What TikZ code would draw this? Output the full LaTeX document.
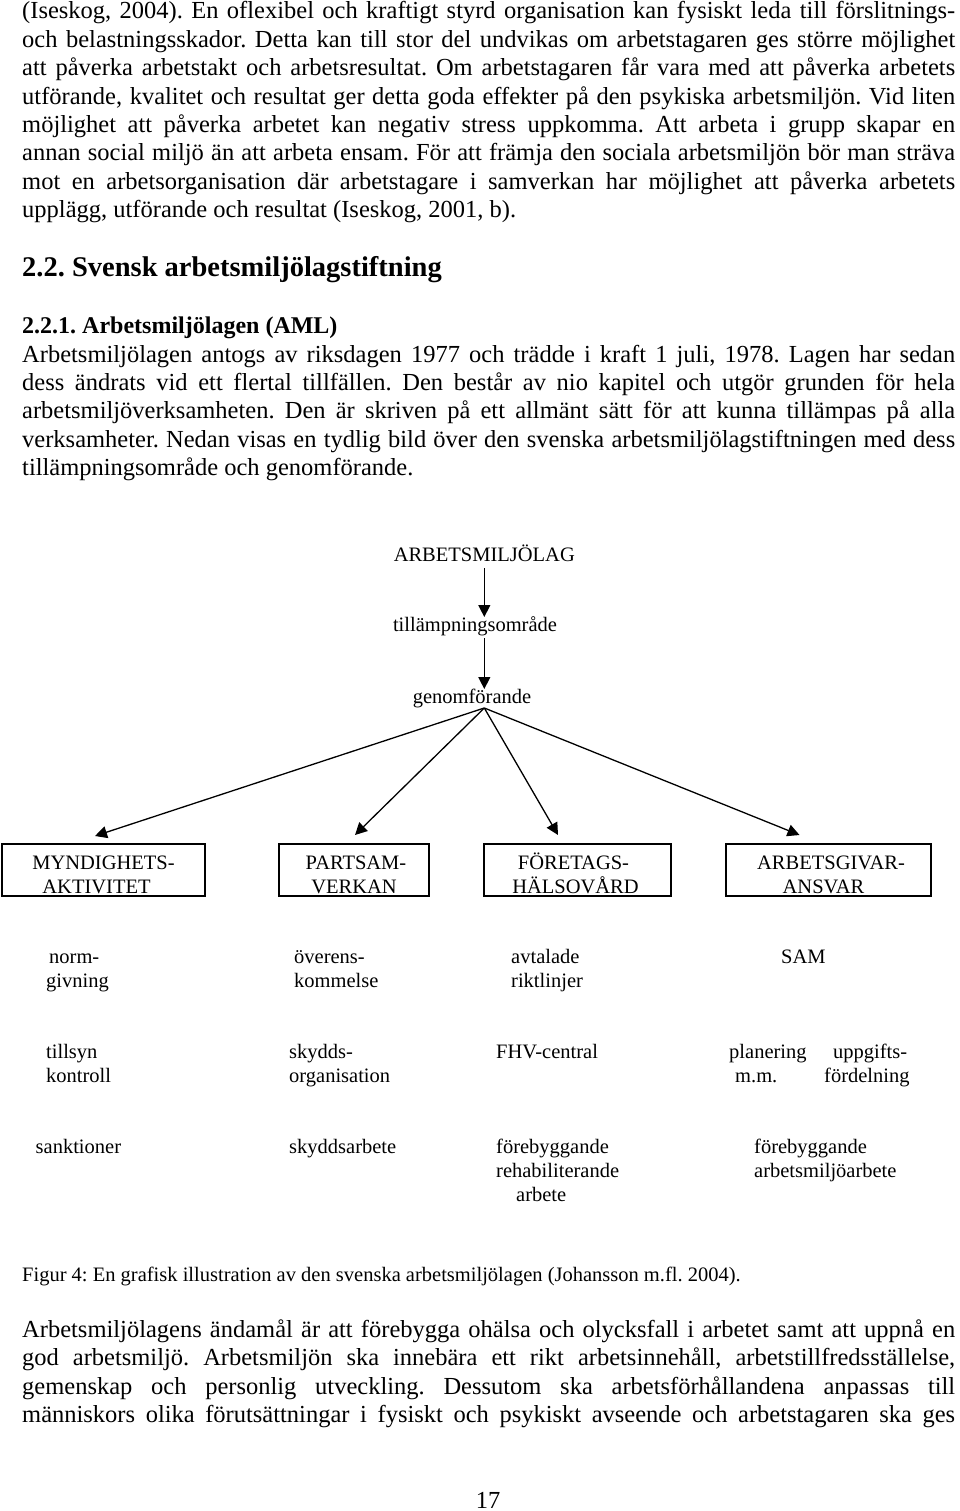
\documentclass[tikz,border=0pt]{standalone}
\usepackage{fontspec}
\setmainfont{Liberation Serif}
\usetikzlibrary{arrows.meta}
\frenchspacing
\tikzset{
  body/.style={anchor=base west, inner sep=0pt, font=\fontsize{24.5}{28.4}\selectfont\frenchspacing},
  bodyb/.style={body, font=\fontsize{24}{28.4}\selectfont\bfseries\frenchspacing},
  headb/.style={body, font=\fontsize{28.5}{33}\selectfont\bfseries\frenchspacing},
  capt/.style={anchor=base west, inner sep=0pt, font=\fontsize{20.5}{24}\selectfont\frenchspacing},
  dtext/.style={inner sep=0pt, outer sep=0pt, font=\fontsize{20.5}{24}\selectfont, text height=14pt, text depth=5pt},
  lbl/.style={anchor=base west, inner sep=0pt, font=\fontsize{20.5}{24}\selectfont},
  box/.style={draw, line width=1.4pt, inner sep=0pt, align=center, minimum height=52pt, font=\fontsize{20.5}{24}\selectfont},
  arr/.style={line width=1.3pt, -{Triangle[length=12pt,width=12pt]}},
}
\newcommand\jl[1]{\makebox[933pt][s]{#1}}
\newcommand\stk[1]{\begin{tabular}[t]{@{}l@{}}#1\end{tabular}}
\newcommand\tl{\rule{0pt}{24pt}}
\begin{document}
\begin{tikzpicture}[x=1pt,y=-1pt]
\fill[white] (0,0) rectangle (960,1511);
\useasboundingbox (0,0) rectangle (960,1511);

% paragraph 1
\node[body] (p1a) at (22,19) {\jl{(Iseskog, 2004). En oflexibel och kraftigt styrd organisation kan fysiskt leda till förslitnings-}};
\node[body] (p1b) at (22,47.4) {\jl{och belastningsskador. Detta kan till stor del undvikas om arbetstagaren ges större möjlighet}};
\node[body] (p1c) at (22,75.8) {\jl{att påverka arbetstakt och arbetsresultat. Om arbetstagaren får vara med att påverka arbetets}};
\node[body] (p1d) at (22,104.2) {\jl{utförande, kvalitet och resultat ger detta goda effekter på den psykiska arbetsmiljön. Vid liten}};
\node[body] (p1e) at (22,132.6) {\jl{möjlighet att påverka arbetet kan negativ stress uppkomma. Att arbeta i grupp skapar en}};
\node[body] (p1f) at (22,161) {\jl{annan social miljö än att arbeta ensam. För att främja den sociala arbetsmiljön bör man sträva}};
\node[body] (p1g) at (22,189.4) {\jl{mot en arbetsorganisation där arbetstagare i samverkan har möjlighet att påverka arbetets}};
\node[body] (p1h) at (22,217.8) {upplägg, utförande och resultat (Iseskog, 2001, b).};

% headings
\node[headb] (h22) at (22,277) {2.2. Svensk arbetsmiljölagstiftning};
\node[bodyb] (h221) at (22,333.5) {2.2.1. Arbetsmiljölagen (AML)};

% paragraph 2
\node[body] (p2a) at (22,362) {\jl{Arbetsmiljölagen antogs av riksdagen 1977 och trädde i kraft 1 juli, 1978. Lagen har sedan}};
\node[body] (p2b) at (22,390.4) {\jl{dess ändrats vid ett flertal tillfällen. Den består av nio kapitel och utgör grunden för hela}};
\node[body] (p2c) at (22,418.8) {\jl{arbetsmiljöverksamheten. Den är skriven på ett allmänt sätt för att kunna tillämpas på alla}};
\node[body] (p2d) at (22,447.2) {\jl{verksamheter. Nedan visas en tydlig bild över den svenska arbetsmiljölagstiftningen med dess}};
\node[body] (p2e) at (22,475.6) {tillämpningsområde och genomförande.};

% diagram top chain
\node[dtext, anchor=base] (law) at (484.3,561) {ARBETSMILJÖLAG};
\node[dtext, anchor=base] (scope) at (475,631) {tillämpningsområde};
\node[dtext, anchor=base] (impl) at (472,703) {genomförande};
\draw[arr, shorten <=2pt] (law.south) -- (law.south |- scope.north);
\draw[arr, shorten <=2pt] (law.south |- scope.south) -- (law.south |- impl.north);

% boxes
\node[box, minimum width=203pt] (b1) at (103.5,870) {\tl MYNDIGHETS-\\AKTIVITET\hspace*{14pt}};
\node[box, minimum width=150pt] (b2) at (354,870) {\tl\hspace*{4pt}PARTSAM-\\VERKAN};
\node[box, minimum width=187pt] (b3) at (577.5,870) {\tl FÖRETAGS-\hspace*{8pt}\\HÄLSOVÅRD\hspace*{4pt}};
\node[box, minimum width=205pt] (b4) at (828.5,870) {\tl\hspace*{5pt}ARBETSGIVAR-\\ANSVAR\hspace*{10pt}};

\coordinate (t1) at (95,836);
\coordinate (t2) at (355,835);
\coordinate (t3) at (558,835);
\coordinate (t4) at (799.5,835);
\draw[arr] (law.south |- impl.south) -- (t1);
\draw[arr] (law.south |- impl.south) -- (t2);
\draw[arr] (law.south |- impl.south) -- (t3);
\draw[arr] (law.south |- impl.south) -- (t4);

% labels row 1
\node[lbl] (l11) at (46,963) {\stk{\hspace*{3pt}norm-\\givning}};
\node[lbl] (l12) at (294,963) {\stk{överens-\\kommelse}};
\node[lbl] (l13) at (511,963) {\stk{avtalade\\riktlinjer}};
\node[lbl] (l14) at (781,963) {SAM};
% row 2
\node[lbl] (l21) at (46,1058) {\stk{tillsyn\\kontroll}};
\node[lbl] (l22) at (289,1058) {\stk{skydds-\\organisation}};
\node[lbl] (l23) at (496,1058) {FHV-central};
\node[lbl] (l24) at (729,1058) {\stk{planering\\\hspace*{6pt}m.m.}};
\node[lbl] (l25) at (824,1058) {\stk{\hspace*{9pt}uppgifts-\\fördelning}};
% row 3
\node[lbl] (l31) at (35.5,1153) {sanktioner};
\node[lbl] (l32) at (289,1153) {skyddsarbete};
\node[lbl] (l33) at (496,1153) {\stk{förebyggande\\rehabiliterande\\\hspace*{20pt}arbete}};
\node[lbl] (l34) at (754,1153) {\stk{förebyggande\\arbetsmiljöarbete}};

% caption
\node[capt] (cap) at (22,1281) {Figur 4: En grafisk illustration av den svenska arbetsmiljölagen (Johansson m.fl. 2004).};

% paragraph 3
\node[body] (p3a) at (22,1337.5) {\jl{Arbetsmiljölagens ändamål är att förebygga ohälsa och olycksfall i arbetet samt att uppnå en}};
\node[body] (p3b) at (22,1365.9) {\jl{god arbetsmiljö. Arbetsmiljön ska innebära ett rikt arbetsinnehåll, arbetstillfredsställelse,}};
\node[body] (p3c) at (22,1394.3) {\jl{gemenskap och personlig utveckling. Dessutom ska arbetsförhållandena anpassas till}};
\node[body] (p3d) at (22,1422.7) {\jl{människors olika förutsättningar i fysiskt och psykiskt avseende och arbetstagaren ska ges}};

% page number
\node[body, anchor=base] (pg) at (488,1508) {17};
\end{tikzpicture}
\end{document}
